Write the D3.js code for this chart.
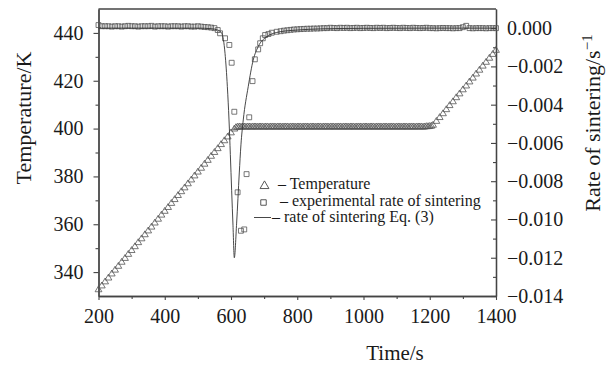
<!DOCTYPE html>
<html>
<head>
<meta charset="utf-8">
<script src="https://cdn.jsdelivr.net/npm/d3@7"></script>
<style>
body { margin: 0; background: #fff; }
text { font-family: "Liberation Serif", "Times New Roman", serif; fill: #1a1a1a; }
</style>
</head>
<body>
<div id="chart"></div>
<script>
// Temperature (triangles): time in s, temperature in K, in three stages
var heatTime = [200,210,220,230,240,250,260,270,280,290,300,310,320,330,340,350,360,370,380,390,
  400,410,420,430,440,450,460,470,480,490,500,510,520,530,540,550,560,570,580,590,600,610];
var heatTemp = [332.6,334.2,335.9,337.5,339.2,340.8,342.4,344.1,345.7,347.4,349.0,350.6,352.3,353.9,355.6,357.2,358.8,360.5,362.1,363.8,
  365.4,367.0,368.7,370.3,372.0,373.6,375.2,376.9,378.5,380.2,381.8,383.4,385.1,386.7,388.4,390.0,391.6,393.3,394.9,396.5,398.2,399.8];
var holdTime = [615,620,625,630,635,640,645,650,655,660,
  665,670,675,680,685,690,695,700,705,710,
  715,720,725,730,735,740,745,750,755,760,
  765,770,775,780,785,790,795,800,805,810,
  815,820,825,830,835,840,845,850,855,860,
  865,870,875,880,885,890,895,900,905,910,
  915,920,925,930,935,940,945,950,955,960,
  965,970,975,980,985,990,995,1000,1005,1010,
  1015,1020,1025,1030,1035,1040,1045,1050,1055,1060,
  1065,1070,1075,1080,1085,1090,1095,1100,1105,1110,
  1115,1120,1125,1130,1135,1140,1145,1150,1155,1160,
  1165,1170,1175,1180,1185,1190,1195,1200,1205];
var holdTemp = [400.4,400.6,400.7,400.6,400.7,400.7,400.6,400.7,400.7,400.6,
  400.7,400.7,400.7,400.6,400.7,400.7,400.7,400.6,400.7,400.7,
  400.6,400.7,400.7,400.7,400.6,400.7,400.7,400.7,400.6,400.7,
  400.7,400.7,400.6,400.7,400.7,400.7,400.6,400.7,400.7,400.7,
  400.6,400.7,400.7,400.7,400.6,400.7,400.7,400.7,400.6,400.7,
  400.7,400.7,400.6,400.7,400.7,400.7,400.6,400.7,400.7,400.7,
  400.6,400.7,400.7,400.7,400.6,400.7,400.7,400.7,400.6,400.7,
  400.7,400.7,400.6,400.7,400.7,400.7,400.6,400.7,400.7,400.7,
  400.6,400.7,400.7,400.7,400.6,400.7,400.7,400.7,400.6,400.7,
  400.7,400.7,400.6,400.7,400.7,400.7,400.6,400.7,400.7,400.7,
  400.6,400.7,400.7,400.7,400.6,400.7,400.7,400.7,400.6,400.7,
  400.7,400.7,400.7,400.6,400.7,400.8,400.8,400.9,401.0];
var reheatTime = [1210,1220,1230,1240,1250,1260,1270,1280,1290,1300,1310,1320,1330,1340,1350,1360,1370,1380,1390,1400];
var reheatTemp = [401.4,403.0,404.6,406.2,407.9,409.6,411.2,412.9,414.5,416.2,417.8,419.5,421.1,422.8,424.4,426.1,427.7,429.4,431.0,432.7];

// Experimental rate of sintering (squares): time in s, rate in 1/s
var expTime = [200,210,220,230,240,250,260,270,280,290,300,310,320,330,340,350,360,370,380,390,
  400,410,420,430,440,450,460,470,480,490,500,510,520,530,540,550,560,
  567,582,595,602,610,620,630,640,647,655,665,672,682,688,696,703,713,723,738,
  750,760,770,780,790,800,810,820,830,840,850,860,870,880,890,900,910,920,930,940,950,960,970,980,990,
  1000,1010,1020,1030,1040,1050,1060,1070,1080,1090,1100,1110,1120,1130,1140,1150,1160,1170,1180,1190,
  1200,1210,1220,1230,1240,1250,1260,1270,1280,1290,1300,1310,1320,1330,1340,1350,1360,1370,1380,1390,1400];
var expRate = [0.00016,0.0001,0.0001,0.0001,0.00008,0.0001,0.0001,0.00008,0.0001,0.00012,0.0001,0.0001,0.00008,0.0001,0.0001,0.0001,0.00012,0.00008,0.0001,0.0001,
  0.0001,0.00008,0.0001,0.0001,0.0001,0.00008,0.0001,0.0001,0.00008,0.00008,0.0001,0.00008,0.00006,0.00005,0.00003,0.0,-0.0001,
  -0.00027,-0.00053,-0.00088,-0.00181,-0.00437,-0.00858,-0.01059,-0.01052,-0.00763,-0.00466,-0.00277,-0.00163,-0.00111,-0.00079,-0.00053,-0.00036,-0.00031,-0.00024,-0.00019,
  -0.00016,-0.00013,-0.00011,-0.00009,-0.00007,-0.00006,-0.00005,-0.00004,-0.00003,-0.00003,-0.00002,-0.00002,-0.00001,0.0,0.0,0.00002,0.00001,0.0,0.00002,0.00001,0.00002,0.0,0.00001,0.00002,0.0,
  0.00001,0.00002,0.00001,0.0,0.00002,0.00001,0.00002,0.0,0.00001,0.00002,0.00001,0.0,0.00002,0.00001,0.0,0.00002,0.00001,0.0,0.00001,0.00002,
  0.0,0.0,-0.00001,0.0,0.00001,0.0,0.0,-0.00001,0.0,0.0,0.00005,0.00012,0.0,-0.00001,0.0,0.0,0.0,-0.00001,0.0,0.0,0.0];

// Rate of sintering from Eq. (3) (solid line)
var eqTime = [200,300,400,500,540,560,572,582,589,594,598,602,606,610,617,625,630,637,652,667,682,708,748,800,870,1000,1200,1400];
var eqRate = [0,0,0,0,-0.00003,-0.0001,-0.00027,-0.00132,-0.00306,-0.0048,-0.0066,-0.0085,-0.0103,-0.0120,
  -0.01019,-0.00757,-0.0061,-0.0048,-0.00306,-0.00167,-0.00097,-0.00045,-0.00019,-0.0001,-0.00004,-0.00001,0,0];

// tick labels
var timeTicks = [200,400,600,800,1000,1200,1400];
var timeMinor = [300,500,700,900,1100,1300];
var tempTicks = [340,360,380,400,420,440];
var tempMinor = [350,370,390,410,430];
var rateTicks = [0,-0.002,-0.004,-0.006,-0.008,-0.010,-0.012,-0.014];
var rateMinor = [-0.001,-0.003,-0.005,-0.007,-0.009,-0.011,-0.013];

var tempTime = heatTime.concat(holdTime, reheatTime);
var tempValue = heatTemp.concat(holdTemp, reheatTemp);

var width = 607, height = 367;
var m = {left: 98.5, right: 496, top: 9, bottom: 296};
var ink = "#444";

var svg = d3.select("#chart")
  .append("svg")
  .attr("width", width)
  .attr("height", height);

var x = d3.scaleLinear().domain([200, 1400]).range([m.left, m.right]);
var yT = d3.scaleLinear().domain([330, 450]).range([m.bottom, m.top]);
var yR = d3.scaleLinear().domain([-0.014, 0.001]).range([m.bottom, m.top]);

// frame top line
svg.append("line")
  .attr("x1", m.left).attr("x2", m.right)
  .attr("y1", m.top).attr("y2", m.top)
  .attr("stroke", ink).attr("stroke-width", 1.3);

function styleAxis(g, size) {
  g.select(".domain").attr("stroke", ink).attr("stroke-width", 1.3);
  g.selectAll(".tick line").attr("stroke", ink).attr("stroke-width", 1.1);
  g.selectAll(".tick text").attr("font-size", size).attr("fill", "#1a1a1a")
    .attr("font-family", "Liberation Serif, serif");
}

// bottom axis
var gx = svg.append("g").attr("transform", "translate(0," + m.bottom + ")")
  .call(d3.axisBottom(x).tickValues(timeTicks).tickSize(4).tickSizeOuter(0).tickPadding(9).tickFormat(d3.format("d")));
styleAxis(gx, 20);
var gx2 = svg.append("g").attr("transform", "translate(0," + m.bottom + ")")
  .call(d3.axisBottom(x).tickValues(timeMinor).tickSize(3).tickSizeOuter(0).tickFormat(""));
styleAxis(gx2, 20);

// left axis
var gl = svg.append("g").attr("transform", "translate(" + m.left + ",0)")
  .call(d3.axisLeft(yT).tickValues(tempTicks).tickSize(5).tickSizeOuter(0).tickPadding(10).tickFormat(d3.format("d")));
styleAxis(gl, 20);
var gl2 = svg.append("g").attr("transform", "translate(" + m.left + ",0)")
  .call(d3.axisLeft(yT).tickValues(tempMinor).tickSize(3).tickSizeOuter(0).tickFormat(""));
styleAxis(gl2, 20);

// right axis, ticks pointing inside
var gr = svg.append("g").attr("transform", "translate(" + m.right + ",0)")
  .call(d3.axisRight(yR).tickValues(rateTicks).tickSize(-5).tickSizeOuter(0).tickPadding(11).tickFormat(d3.format(".3f")));
styleAxis(gr, 20);
var gr2 = svg.append("g").attr("transform", "translate(" + m.right + ",0)")
  .call(d3.axisRight(yR).tickValues(rateMinor).tickSize(-3).tickSizeOuter(0).tickFormat(""));
styleAxis(gr2, 20);

// temperature triangles
var tri = d3.symbol().type(d3.symbolTriangle).size(20);
svg.append("g")
  .selectAll("path")
  .data(tempTime)
  .enter()
  .append("path")
  .attr("d", tri)
  .attr("transform", function(d, i) { return "translate(" + x(d) + "," + yT(tempValue[i]) + ")"; })
  .attr("fill", "none")
  .attr("stroke", "#555")
  .attr("stroke-width", 0.8);

// experimental squares
var sq = d3.symbol().type(d3.symbolSquare).size(24);
svg.append("g")
  .selectAll("path")
  .data(expTime)
  .enter()
  .append("path")
  .attr("d", sq)
  .attr("transform", function(d, i) { return "translate(" + x(d) + "," + yR(expRate[i]) + ")"; })
  .attr("fill", "none")
  .attr("stroke", "#555")
  .attr("stroke-width", 0.8);

// Eq. (3) line
var line = d3.line()
  .x(function(d) { return x(d); })
  .y(function(d, i) { return yR(eqRate[i]); })
  .curve(d3.curveMonotoneX);
svg.append("path")
  .attr("d", line(eqTime))
  .attr("fill", "none")
  .attr("stroke", "#333")
  .attr("stroke-width", 0.9);

// legend
var leg = svg.append("g");
leg.append("path").attr("d", d3.symbol().type(d3.symbolTriangle).size(34))
  .attr("transform", "translate(264.5,186)")
  .attr("fill", "none").attr("stroke", "#444").attr("stroke-width", 0.9);
leg.append("text").attr("x", 278).attr("y", 189).attr("font-size", 16).text("\u2013 Temperature");
leg.append("path").attr("d", d3.symbol().type(d3.symbolSquare).size(30))
  .attr("transform", "translate(263.5,202.5)")
  .attr("fill", "none").attr("stroke", "#444").attr("stroke-width", 0.9);
leg.append("text").attr("x", 280).attr("y", 205.5).attr("font-size", 16).text("\u2013 experimental rate of sintering");
leg.append("line").attr("x1", 254).attr("x2", 271).attr("y1", 217.5).attr("y2", 217.5)
  .attr("stroke", "#333").attr("stroke-width", 0.9);
leg.append("text").attr("x", 272).attr("y", 221.5).attr("font-size", 16).text("\u2013 rate of sintering Eq. (3)");

// axis titles
svg.append("text")
  .attr("x", 395).attr("y", 360)
  .attr("text-anchor", "middle").attr("font-size", 21)
  .text("Time/s");

svg.append("text")
  .attr("transform", "translate(31,118) rotate(-90)")
  .attr("text-anchor", "middle").attr("font-size", 22)
  .text("Temperature/K");

var rt = svg.append("text")
  .attr("transform", "translate(600,123) rotate(-90)")
  .attr("text-anchor", "middle").attr("font-size", 22);
rt.append("tspan").text("Rate of sintering/s");
rt.append("tspan").attr("dy", -8).attr("font-size", 15).text("\u22121");
</script>
</body>
</html>
